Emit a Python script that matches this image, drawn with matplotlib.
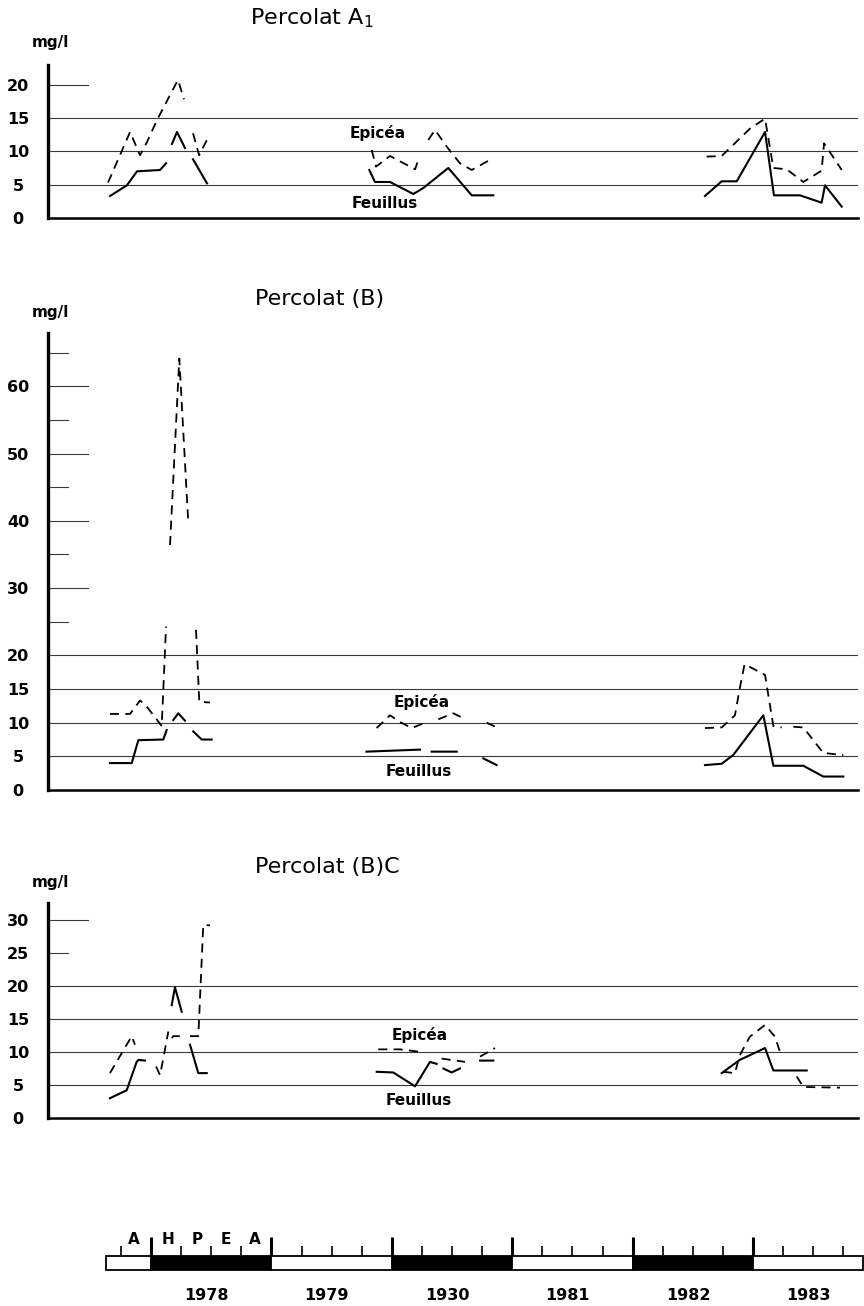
import numpy as np
import matplotlib
matplotlib.use("Agg")
import matplotlib.pyplot as plt
from matplotlib.patches import Rectangle

nan = np.nan

# ---------------- Data (x = decimal year, y = mg/l) ----------------
# Percolat A1
a1_epicea_x = [1977.643, 1977.826, 1977.909, 1977.967, 1978.05, 1978.224, 1978.274, nan,
               1978.349, 1978.40, 1978.473, nan,
               1979.833, 1979.869, 1979.985, 1980.193, 1980.22, nan,
               1980.303, 1980.359, 1980.456, 1980.566, 1980.664, 1980.843, nan,
               1982.615, 1982.74, 1982.975, 1983.10, 1983.169, 1983.28, 1983.418, 1983.57, 1983.59, 1983.737]
a1_epicea_y = [5.3, 12.9, 9.4, 11.4, 14.7, 20.7, 17.8, nan,
               12.7, 9.4, 12.0, nan,
               10.2, 7.7, 9.3, 7.3, 8.7, nan,
               11.7, 13.2, 10.7, 8.2, 7.2, 9.0, nan,
               9.2, 9.3, 13.4, 14.9, 7.5, 7.3, 5.4, 7.1, 11.2, 7.2]
a1_feuillus_x = [1977.66, 1977.80, 1977.884, 1978.075, 1978.125, nan,
                 1978.174, 1978.216, 1978.282, nan,
                 1978.349, 1978.465, nan,
                 1979.813, 1979.86, 1979.985, 1980.179, 1980.262, 1980.469, 1980.664, 1980.843, nan,
                 1982.601, 1982.74, 1982.865, 1983.10, 1983.174, 1983.39, 1983.57, 1983.598, 1983.737]
a1_feuillus_y = [3.3, 4.9, 7.0, 7.2, 8.2, nan,
                 11.1, 12.9, 10.5, nan,
                 8.8, 5.2, nan,
                 7.2, 5.4, 5.4, 3.6, 4.5, 7.5, 3.4, 3.4, nan,
                 3.3, 5.5, 5.5, 12.9, 3.4, 3.4, 2.3, 4.9, 1.7]

# Percolat (B)
b_epicea_x = [1977.659, 1977.826, 1977.909, 1977.964, 1978.047, 1978.089, 1978.125, nan,
              1978.158, 1978.235, 1978.31, nan,
              1978.374, 1978.401, 1978.49, nan,
              1979.874, 1979.985, 1980.068, 1980.165, 1980.262, nan,
              1980.386, 1980.511, 1980.589, nan,
              1980.788, 1980.885, nan,
              1982.601, 1982.74, 1982.85, 1982.89, 1982.93, 1983.10, 1983.169, 1983.238, nan,
              1983.335, 1983.418, 1983.584, 1983.75]
b_epicea_y = [11.3, 11.3, 13.3, 12.4, 10.5, 9.5, 24.3, nan,
              36.4, 64.1, 39.6, nan,
              23.8, 13.1, 13.0, nan,
              9.2, 11.1, 10.1, 9.2, 9.9, nan,
              10.5, 11.4, 10.7, nan,
              10.0, 9.2, nan,
              9.2, 9.3, 11.1, 15.1, 18.7, 17.1, 9.5, 9.3, nan,
              9.4, 9.3, 5.5, 5.2]
b_feuillus_x = [1977.659, 1977.84, 1977.895, 1978.102, 1978.13, nan,
                1978.185, 1978.227, 1978.282, nan,
                1978.351, 1978.421, 1978.504, nan,
                1979.79, 1980.234, nan,
                1980.331, 1980.539, nan,
                1980.76, 1980.871, nan,
                1982.601, 1982.74, 1982.836, 1983.086, 1983.169, 1983.418, 1983.584, 1983.75]
b_feuillus_y = [4.0, 4.0, 7.4, 7.5, 8.9, nan,
                10.4, 11.4, 10.3, nan,
                8.7, 7.5, 7.5, nan,
                5.7, 6.0, nan,
                5.7, 5.7, nan,
                4.7, 3.7, nan,
                3.7, 3.9, 5.2, 11.1, 3.6, 3.6, 2.0, 2.0]

# Percolat (B)C
c_epicea_x = [1977.659, 1977.84, 1977.867, nan,
              1978.042, 1978.075, 1978.102, 1978.144, nan,
              1978.172, 1978.185, 1978.268, nan,
              1978.324, 1978.393, 1978.434, 1978.49, nan,
              1979.888, 1980.068, 1980.248, nan,
              1980.414, 1980.608, nan,
              1980.733, 1980.857, nan,
              1982.751, 1982.85, 1982.89, 1982.973, 1983.10, 1983.183, 1983.224, nan,
              1983.363, 1983.418, 1983.723]
c_epicea_y = [6.8, 12.4, 11.1, nan,
              7.8, 6.5, 9.0, 13.1, nan,
              12.1, 12.4, 12.4, nan,
              12.4, 12.4, 29.2, 29.2, nan,
              10.4, 10.4, 10.0, nan,
              9.0, 8.5, nan,
              9.3, 10.6, nan,
              7.0, 6.8, 9.5, 12.3, 14.1, 12.3, 10.0, nan,
              6.3, 4.7, 4.6]
c_feuillus_x = [1977.659, 1977.798, 1977.881, 1977.895, 1977.95, nan,
                1978.172, 1978.199, 1978.255, nan,
                1978.324, 1978.393, 1978.463, nan,
                1979.875, 1980.012, 1980.193, 1980.317, 1980.373, nan,
                1980.428, 1980.497, 1980.566, nan,
                1980.733, 1980.843, nan,
                1982.74, 1982.89, 1983.10, 1983.169, 1983.446]
c_feuillus_y = [3.0, 4.2, 8.5, 8.8, 8.7, nan,
                17.1, 19.8, 16.1, nan,
                11.1, 6.8, 6.8, nan,
                7.0, 6.9, 4.8, 8.5, 8.2, nan,
                7.5, 6.9, 7.5, nan,
                8.7, 8.7, nan,
                6.8, 8.8, 10.6, 7.2, 7.2]

# Timeline
bar_starts = [1977.625, 1978, 1979, 1980, 1981, 1982, 1983]
bar_ends = [1978, 1979, 1980, 1981, 1982, 1983, 1983.91]
bar_fill = ['white', 'black', 'white', 'black', 'white', 'black', 'white']
year_ticks = [1978, 1979, 1980, 1981, 1982, 1983]
year_labels = ['1978', '1979', '1930', '1981', '1982', '1983']
season_labels = ['A', 'H', 'P', 'E', 'A']
season_pos = [1977.86, 1978.14, 1978.38, 1978.62, 1978.86]

# ---------------- Layout helpers ----------------
W, H = 864, 1306
fig = plt.figure(figsize=(W / 100, H / 100), dpi=100)
fig.patch.set_facecolor('white')

X0_PX, X1_PX = 48, 858
YEAR_PX0 = 151.0      # pixel of 1978.0
PX_PER_YEAR = 120.4


def px2year(px):
    return 1978 + (px - YEAR_PX0) / PX_PER_YEAR


def add_axes_px(left, top, right, bottom):
    return fig.add_axes([left / W, 1 - bottom / H, (right - left) / W, (bottom - top) / H])


def panel(top_px, bottom_px, px_per_unit, epi_x, epi_y, feu_x, feu_y,
          grid_vals, long_ticks, short_ticks, labels, title, title_px, unit_px,
          epi_pos, feu_pos):
    ax = add_axes_px(X0_PX, top_px, X1_PX, bottom_px)
    ax.set_xlim(px2year(X0_PX), px2year(X1_PX))
    ax.set_ylim(0, (bottom_px - top_px) / px_per_unit)
    ax.patch.set_alpha(0)
    for s in ['top', 'right']:
        ax.spines[s].set_visible(False)
    ax.spines['left'].set_linewidth(2.4)
    ax.spines['bottom'].set_linewidth(1.8)
    ax.set_xticks([])
    ax.set_yticks(labels)
    ax.set_yticklabels([str(v) for v in labels], fontsize=11.5, fontweight='bold')
    for t in ax.get_yticklabels():
        t.set_horizontalalignment('center')
    ax.tick_params(axis='y', length=0, pad=21.6)
    span = X1_PX - X0_PX
    for v in grid_vals:
        ax.axhline(v, color='#3a3a3a', lw=0.8, zorder=1)
    for v in long_ticks:
        ax.axhline(v, xmin=0, xmax=40 / span, color='#3a3a3a', lw=0.8, zorder=1)
    for v in short_ticks:
        ax.axhline(v, xmin=0, xmax=20 / span, color='#3a3a3a', lw=0.8, zorder=1)
    ax.plot(epi_x, epi_y, color='black', lw=1.3, linestyle=(0, (5, 3.5)), zorder=3)
    ax.plot(feu_x, feu_y, color='black', lw=1.5, linestyle='-', zorder=3)
    ax.text(epi_pos[0], epi_pos[1], 'Epicéa', fontsize=11, fontweight='bold',
            ha='center', va='center', zorder=4)
    ax.text(feu_pos[0], feu_pos[1], 'Feuillus', fontsize=11, fontweight='bold',
            ha='center', va='center', zorder=4)
    fig.text(title_px[0] / W, 1 - title_px[1] / H, title, fontsize=16,
             ha='left', va='center')
    fig.text(unit_px[0] / W, 1 - unit_px[1] / H, 'mg/l', fontsize=11,
             fontweight='bold', ha='center', va='center')
    return ax


panel(65, 218, 6.67, a1_epicea_x, a1_epicea_y, a1_feuillus_x, a1_feuillus_y,
      [5, 10, 15], [20], [], [0, 5, 10, 15, 20],
      'Percolat A$_1$', (250, 18), (50, 43),
      (1979.885, 12.7), (1979.94, 2.2))

panel(333, 790, 6.73, b_epicea_x, b_epicea_y, b_feuillus_x, b_feuillus_y,
      [5, 10, 15, 20], [30, 40, 50, 60], [25, 35, 45, 55, 65],
      [0, 5, 10, 15, 20, 30, 40, 50, 60],
      'Percolat (B)', (255, 299), (50, 313),
      (1980.25, 13.1), (1980.22, 2.7))

panel(903, 1118, 6.6, c_epicea_x, c_epicea_y, c_feuillus_x, c_feuillus_y,
      [5, 10, 15, 20], [30], [25], [0, 5, 10, 15, 20, 25, 30],
      'Percolat (B)C', (255, 867), (50, 883),
      (1980.23, 12.6), (1980.22, 2.7))

# ---------------- Timeline ----------------
tl = add_axes_px(0, 1220, W, H)
tl.set_xlim(px2year(0), px2year(W))
tl.set_ylim(H, 1220)
tl.axis('off')
BAR_TOP, BAR_BOT = 1256, 1270
for s, e, c in zip(bar_starts, bar_ends, bar_fill):
    tl.add_patch(Rectangle((s, BAR_TOP), e - s, BAR_BOT - BAR_TOP,
                           facecolor=c, edgecolor='black', lw=1.3))
for y in year_ticks:
    tl.plot([y, y], [BAR_TOP, 1237], color='black', lw=2.2, solid_capstyle='butt')
quarters = [1977.75] + [y + q for y in year_ticks for q in (0.25, 0.5, 0.75)]
for q in quarters:
    tl.plot([q, q], [BAR_TOP, 1246], color='black', lw=1.2, solid_capstyle='butt')
for p, s in zip(season_pos, season_labels):
    tl.text(p, 1240, s, fontsize=11, fontweight='bold', ha='center', va='center')
for y, lab in zip(year_ticks, year_labels):
    tl.text(y + 0.46, 1295, lab, fontsize=11.5, fontweight='bold', ha='center', va='center')

fig.savefig('out.png', dpi=100, facecolor='white')
